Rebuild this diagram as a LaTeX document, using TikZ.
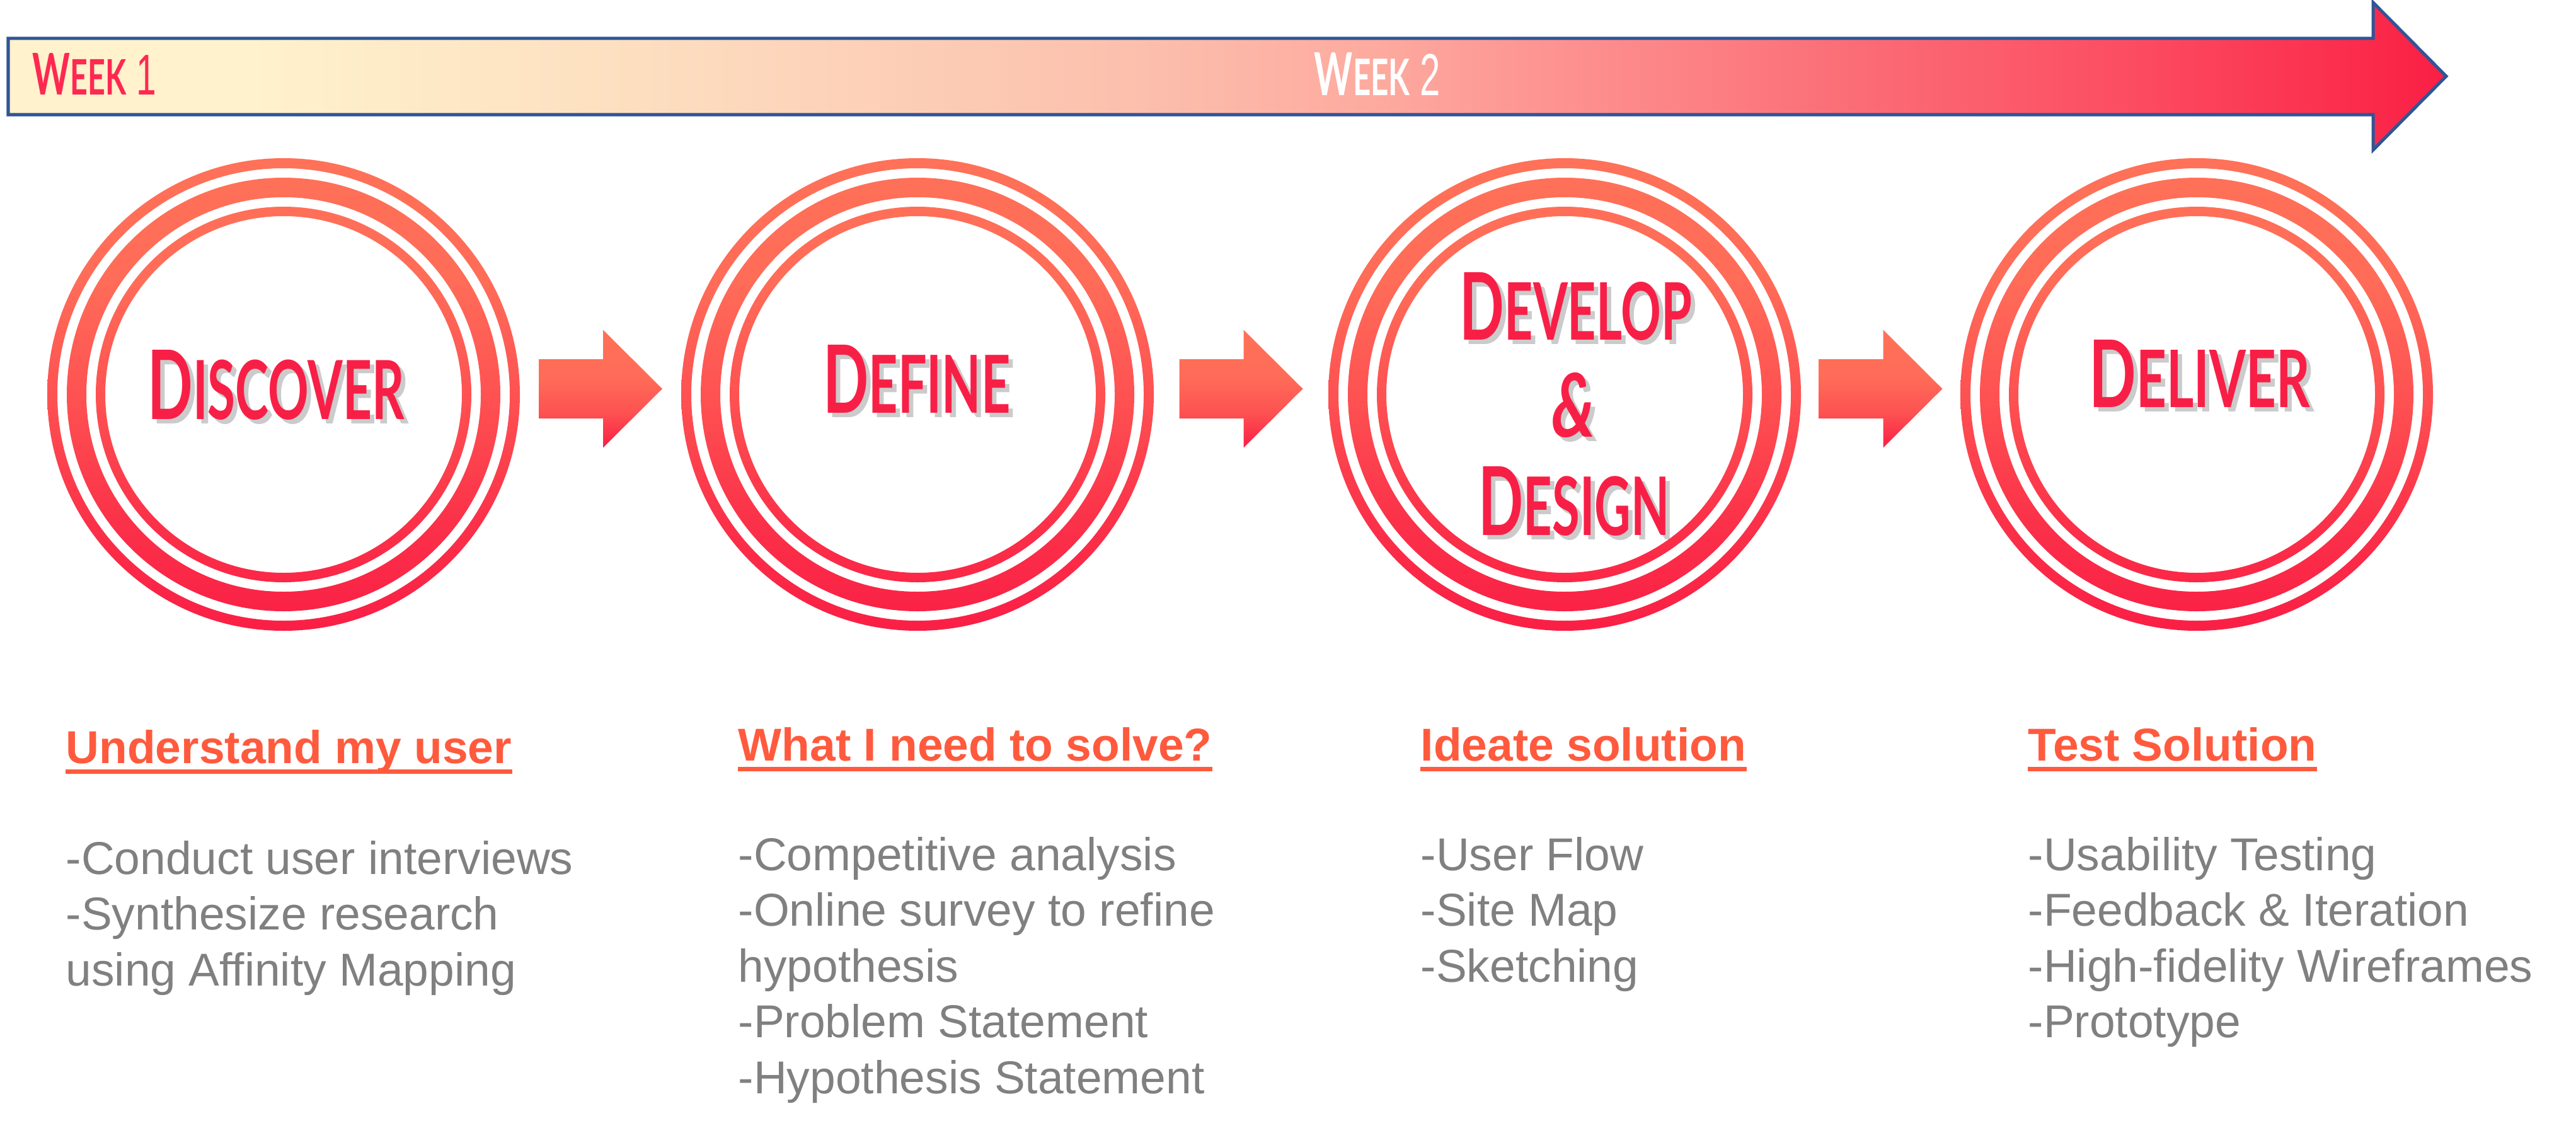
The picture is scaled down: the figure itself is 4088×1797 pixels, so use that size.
\documentclass[tikz,border=0pt]{standalone}
\usepackage{fontspec}
\usepackage{graphicx}
\setmainfont{Liberation Sans}
\newfontfamily\titlefont{Lato}
\usetikzlibrary{calc}

% palette
\definecolor{barblue}{HTML}{2F5597}
\definecolor{wkA}{HTML}{FFF2CC}
\definecolor{wkB}{HTML}{FDDFC0}
\definecolor{wkC}{HTML}{FCC0AD}
\definecolor{wkD}{HTML}{FDA99E}
\definecolor{wkE}{HTML}{FD9090}
\definecolor{wkF}{HTML}{FB7078}
\definecolor{wkG}{HTML}{FC4B61}
\definecolor{wkH}{HTML}{FA1F44}
\definecolor{ringtop}{HTML}{FF7158}
\definecolor{ringup}{HTML}{FF6C58}
\definecolor{ringmid}{HTML}{FE5252}
\definecolor{ringlow}{HTML}{FB3049}
\definecolor{ringbot}{HTML}{FA1F45}
\definecolor{titlered}{HTML}{F81F47}
\definecolor{weekred}{HTML}{FF2851}
\definecolor{headred}{HTML}{FF5A3D}
\definecolor{bodygray}{HTML}{808080}

% week bar: cream to red, left to right
\pgfdeclarehorizontalshading{weekbar}{100bp}{%
  color(0bp)=(wkA); color(25bp)=(wkA); color(30bp)=(wkA);
  color(37.75bp)=(wkB); color(48bp)=(wkC); color(53.25bp)=(wkD);
  color(57.1bp)=(wkE); color(62.3bp)=(wkF); color(68.75bp)=(wkG);
  color(75bp)=(wkH); color(100bp)=(wkH)}
% rings and chevrons: coral on top, red at the bottom
\pgfdeclareverticalshading{ringshade}{100bp}{%
  color(0bp)=(ringbot); color(25bp)=(ringbot); color(36bp)=(ringlow);
  color(50bp)=(ringmid); color(62bp)=(ringup); color(75bp)=(ringtop);
  color(100bp)=(ringtop)}
\pgfdeclareverticalshading{chevshade}{100bp}{%
  color(0bp)=(ringbot); color(25bp)=(ringbot); color(40bp)=(ringmid);
  color(55bp)=(ringup); color(75bp)=(ringtop); color(100bp)=(ringtop)}

% caps with a larger first letter
\newcommand\capsword[2]{{\titlefont\bfseries\fontsize{40pt}{40pt}\selectfont #1\fontsize{34pt}{34pt}\selectfont #2}}

\begin{document}
\begin{tikzpicture}[x=0.01cm, y=0.01cm,
  rings/.style={shade, shading=ringshade, even odd rule},
  chev/.style={shade, shading=chevshade},
  titletext/.style={inner sep=0pt, anchor=base, text=titlered},
  titleshadow/.style={inner sep=0pt, anchor=base, text=black!45, opacity=0.45},
  weeklabel/.style={inner sep=0pt, anchor=base},
  head/.style={inner sep=0pt, anchor=base west, text=headred,
    font=\bfseries\fontsize{20.8pt}{25pt}\selectfont},
  body/.style={inner sep=0pt, anchor=base west, text=bodygray,
    font=\fontsize{20.8pt}{25pt}\selectfont},
  uline/.style={draw=headred, line width=0.7mm}]

\useasboundingbox (0,0) rectangle (4088,-1797);

% week bar arrow
\path[shade, shading=weekbar, draw=barblue, line width=0.5mm, line join=miter]
  (13,-61) -- (3766,-61) -- (3766,-4) -- (3882,-121) -- (3766,-238)
  -- (3766,-182) -- (13,-182) -- cycle;
\node[weeklabel] (wk1) at (150,-151)
  {\resizebox{19.6mm}{6.6mm}{\color{weekred}\capsword{W}{EEK}\fontsize{40pt}{40pt}\selectfont\ 1}};
\node[weeklabel] (wk2) at (2186,-152)
  {\resizebox{20.0mm}{6.8mm}{\color{white}\capsword{W}{EEK}\fontsize{40pt}{40pt}\selectfont\ 2}};

% phase centres
\coordinate (c1) at (450,-626);
\coordinate (c2) at (1456,-626);
\coordinate (c3) at (2483,-626);
\coordinate (c4) at (3486,-626);

% triple rings
\foreach \c in {c1,c2,c3,c4}{
  \path[rings] (\c) circle[radius=375] (\c) circle[radius=359]
               (\c) circle[radius=344] (\c) circle[radius=313]
               (\c) circle[radius=298] (\c) circle[radius=283];
}

% chevrons between phases
\foreach \a/\b in {c1/c2, c2/c3, c3/c4}{
  \path[chev] ($(\a)!0.5!(\b)+(-98,9)$)
    ++(0,47) -- ++(102,0) -- ++(0,46.5) -- ++(94,-93.5) -- ++(-94,-93.5)
    -- ++(0,46.5) -- ++(-102,0) -- cycle;
}

% phase titles with drop shadow
\newcommand\phasetitle[5]{%
  \node[titleshadow] (#1s) at ($(#2)+(7,-7)$) {\resizebox{#3mm}{#4mm}{#5}};
  \node[titletext] (#1) at (#2) {\resizebox{#3mm}{#4mm}{#5}};}
\phasetitle{tdiscover}{438,-665}{40.7}{11.0}{\capsword{D}{ISCOVER}}
\phasetitle{tdefine}{1455,-655}{29.7}{10.8}{\capsword{D}{EFINE}}
\phasetitle{tdevelop}{2501,-539}{36.8}{10.7}{\capsword{D}{EVELOP}}
\phasetitle{tamp}{2497,-693}{6.9}{10.2}{{\titlefont\bfseries\itshape\&}}
\phasetitle{tdesign}{2498,-849}{30.3}{10.9}{\capsword{D}{ESIGN}}
\phasetitle{tdeliver}{3491,-646}{35.0}{10.7}{\capsword{D}{ELIVER}}

% column headings
\node[head] (h1) at (104,-1211) {Understand my user};
\node[head] (h2) at (1171,-1207) {What I need to solve?};
\node[head] (h3) at (2254,-1207) {Ideate solution};
\node[head] (h4) at (3218,-1207) {Test Solution};
\foreach \h in {h1,h2,h3,h4}
  \draw[uline] ($(\h.base west)+(0,-13)$) -- ($(\h.base east)+(0,-13)$);

% column bullet lines
\foreach \t [count=\i] in {-Conduct user interviews, -Synthesize research, using Affinity Mapping}
  \node[body] (b1-\i) at (104,{-1387-88.5*(\i-1)}) {\t};
\foreach \t [count=\i] in {-Competitive analysis, -Online survey to refine, hypothesis, -Problem Statement, -Hypothesis Statement}
  \node[body] (b2-\i) at (1171,{-1381-88.5*(\i-1)}) {\t};
\foreach \t [count=\i] in {-User Flow, -Site Map, -Sketching}
  \node[body] (b3-\i) at (2254,{-1381-88.5*(\i-1)}) {\t};
\foreach \t [count=\i] in {-Usability Testing, -Feedback \& Iteration, -High-fidelity Wireframes, -Prototype}
  \node[body] (b4-\i) at (3218,{-1381-88.5*(\i-1)}) {\t};

\end{tikzpicture}
\end{document}
